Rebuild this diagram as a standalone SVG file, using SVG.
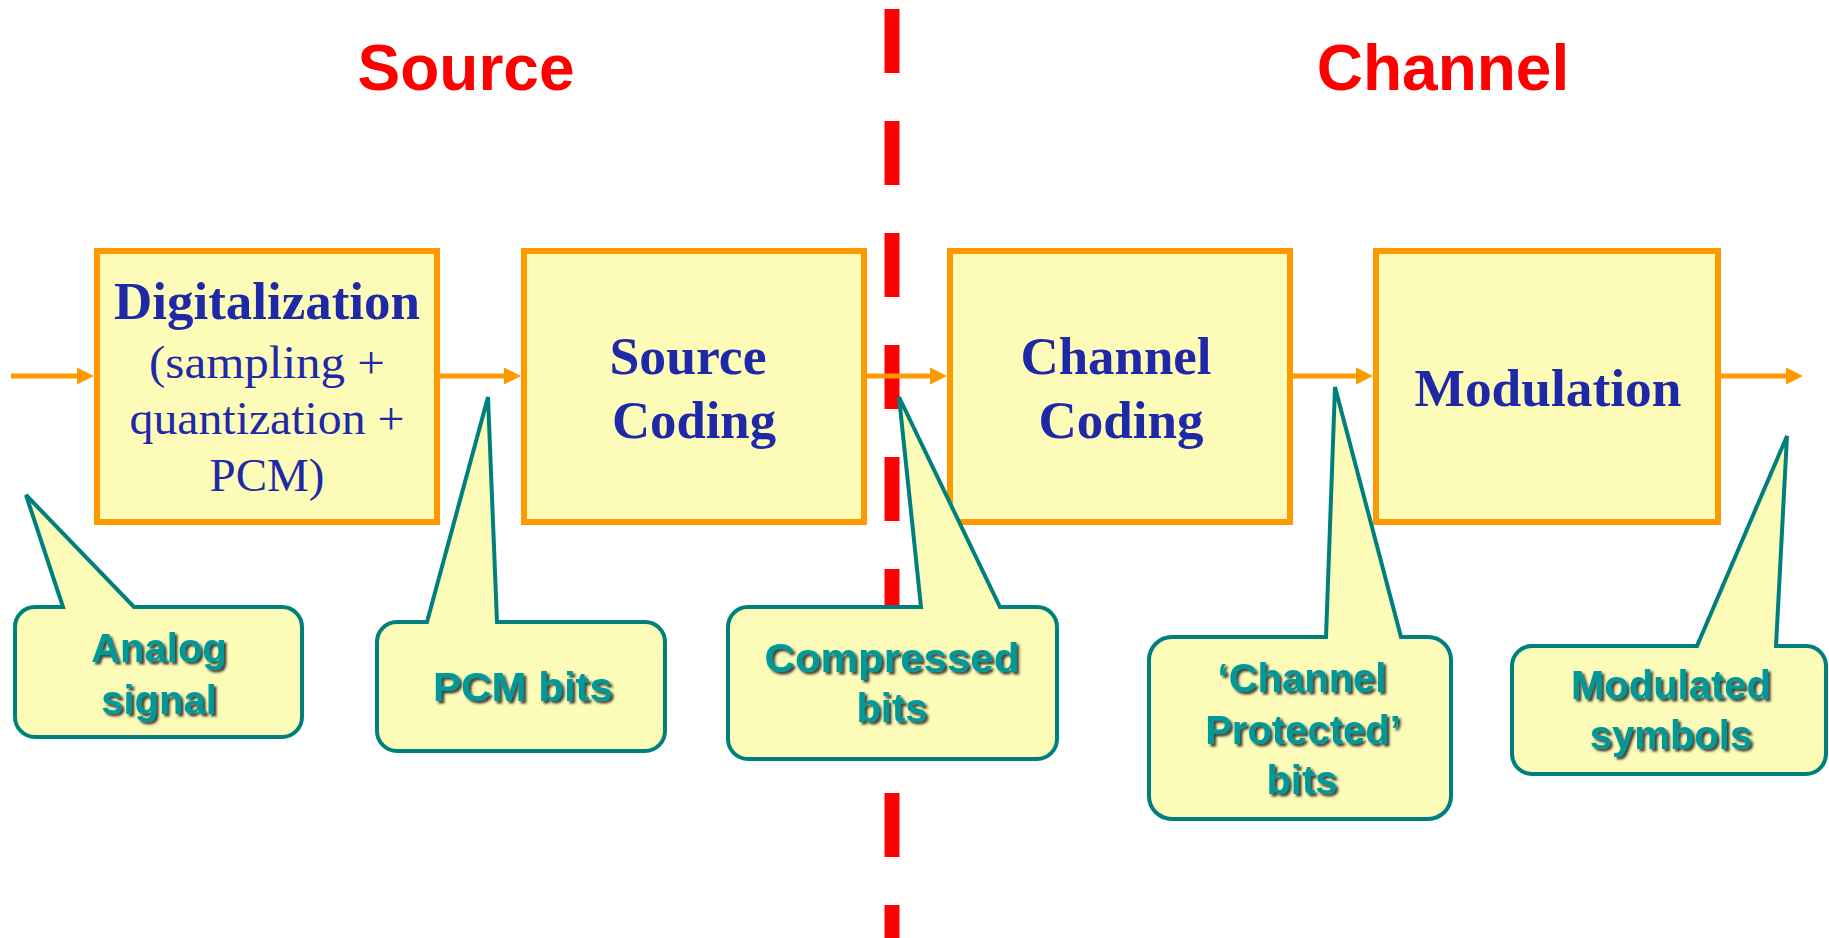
<svg xmlns="http://www.w3.org/2000/svg" width="1829" height="938" viewBox="0 0 1829 938">
<style>
.box{fill:#FCFCB8;stroke:#FF9900;stroke-width:6}
.btxt{font-family:"Liberation Serif","Times New Roman",serif;fill:#1F29A8;text-anchor:middle}
.bold{font-weight:bold;font-size:52px}
.reg{font-size:47px}
.title{font-family:"Liberation Sans",Arial,sans-serif;font-weight:bold;font-size:64px;fill:#FF0000;text-anchor:middle}
.call{fill:#FCFCB8;stroke:#007F7F;stroke-width:4;stroke-linejoin:miter}
.ctxt{font-family:"Liberation Sans",Arial,sans-serif;font-weight:bold;font-size:40px;fill:#009999;text-anchor:middle;filter:url(#sh)}
.arr{stroke:#FF9900;stroke-width:5;fill:none;marker-end:url(#ah)}
</style>
<defs>
<marker id="ah" viewBox="0 0 17 17" refX="9" refY="8.5" markerWidth="17" markerHeight="17" markerUnits="userSpaceOnUse" orient="auto">
<path d="M0,0 L17,8.5 L0,17 Z" fill="#FF9900"/>
</marker>
<filter id="sh" x="-10%" y="-20%" width="120%" height="140%">
<feDropShadow dx="2.5" dy="2.5" stdDeviation="0.8" flood-color="#1a1a1a" flood-opacity="0.85"/>
</filter>
</defs>

<g id="divider">
<line x1="892" y1="9" x2="892" y2="938" stroke="#FF0000" stroke-width="15" stroke-dasharray="64 48"/>
</g>

<g id="titles">
<text class="title" x="466" y="90">Source</text>
<text class="title" x="1443" y="90">Channel</text>
</g>

<g id="digitalization">
<rect class="box" x="97" y="251" width="340" height="271"/>
<text class="btxt bold" x="267" y="319" textLength="306" lengthAdjust="spacingAndGlyphs">Digitalization</text>
<text class="btxt reg" x="267" y="378" textLength="236" lengthAdjust="spacingAndGlyphs">(sampling +</text>
<text class="btxt reg" x="267" y="434" textLength="275" lengthAdjust="spacingAndGlyphs">quantization +</text>
<text class="btxt reg" x="267" y="491">PCM)</text>
</g>

<g id="source-coding">
<rect class="box" x="524" y="251" width="340" height="271"/>
<text class="btxt bold" x="688" y="374" textLength="157" lengthAdjust="spacingAndGlyphs">Source</text>
<text class="btxt bold" x="694" y="438" textLength="164" lengthAdjust="spacingAndGlyphs">Coding</text>
</g>

<g id="channel-coding">
<rect class="box" x="950" y="251" width="340" height="271"/>
<text class="btxt bold" x="1116" y="374" textLength="191" lengthAdjust="spacingAndGlyphs">Channel</text>
<text class="btxt bold" x="1121" y="438" textLength="165" lengthAdjust="spacingAndGlyphs">Coding</text>
</g>

<g id="modulation">
<rect class="box" x="1376" y="251" width="342" height="271"/>
<text class="btxt bold" x="1548" y="406" textLength="267" lengthAdjust="spacingAndGlyphs">Modulation</text>
</g>

<g id="connectors">
<line class="arr" x1="11" y1="376" x2="86" y2="376"/>
<line class="arr" x1="440" y1="376" x2="513" y2="376"/>
<line class="arr" x1="867" y1="376" x2="939" y2="376"/>
<line class="arr" x1="1293" y1="376" x2="1365" y2="376"/>
<line class="arr" x1="1721" y1="376" x2="1795" y2="376"/>
</g>

<g id="callout-analog">
<path class="call" d="M35,607 L63,607 L26,495 L134,607 L282,607 A20,20 0 0 1 302,627 L302,717 A20,20 0 0 1 282,737 L35,737 A20,20 0 0 1 15,717 L15,627 A20,20 0 0 1 35,607 Z"/>
<text class="ctxt" x="159" y="662">Analog</text>
<text class="ctxt" x="159" y="714">signal</text>
</g>

<g id="callout-pcm">
<path class="call" d="M397,622 L427,622 L488,397 L497,622 L645,622 A20,20 0 0 1 665,642 L665,731 A20,20 0 0 1 645,751 L397,751 A20,20 0 0 1 377,731 L377,642 A20,20 0 0 1 397,622 Z"/>
<text class="ctxt" x="523" y="701" textLength="180" lengthAdjust="spacingAndGlyphs">PCM bits</text>
</g>

<g id="callout-compressed">
<path class="call" d="M748,607 L921,607 L899,397 L1000,607 L1037,607 A20,20 0 0 1 1057,627 L1057,739 A20,20 0 0 1 1037,759 L748,759 A20,20 0 0 1 728,739 L728,627 A20,20 0 0 1 748,607 Z"/>
<text class="ctxt" x="892" y="672" textLength="255" lengthAdjust="spacingAndGlyphs">Compressed</text>
<text class="ctxt" x="892" y="722">bits</text>
</g>

<g id="callout-protected">
<path class="call" d="M1172,637 L1326,637 L1335,387 L1401,637 L1428,637 A23,23 0 0 1 1451,660 L1451,796 A23,23 0 0 1 1428,819 L1172,819 A23,23 0 0 1 1149,796 L1149,660 A23,23 0 0 1 1172,637 Z"/>
<text class="ctxt" x="1302" y="692">‘Channel</text>
<text class="ctxt" x="1303" y="744">Protected’</text>
<text class="ctxt" x="1302" y="794">bits</text>
</g>

<g id="callout-modulated">
<path class="call" d="M1532,646 L1697,646 L1787,436 L1776,646 L1806,646 A20,20 0 0 1 1826,666 L1826,754 A20,20 0 0 1 1806,774 L1532,774 A20,20 0 0 1 1512,754 L1512,666 A20,20 0 0 1 1532,646 Z"/>
<text class="ctxt" x="1671" y="699">Modulated</text>
<text class="ctxt" x="1671" y="749">symbols</text>
</g>
</svg>
